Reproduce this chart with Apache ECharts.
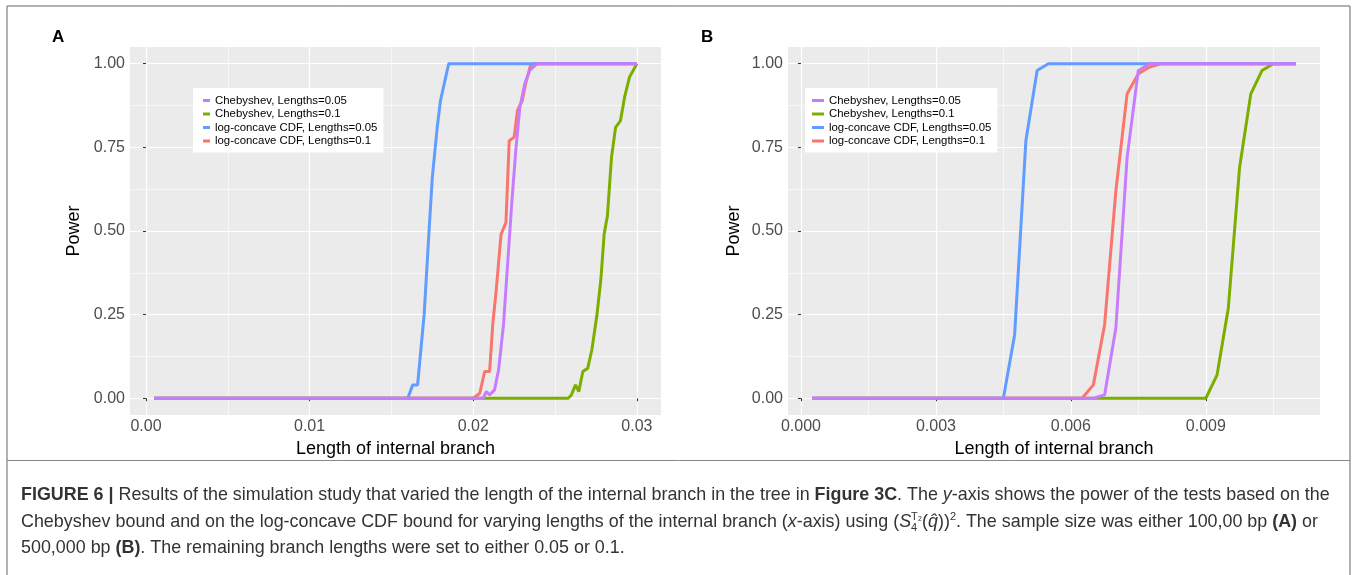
<!DOCTYPE html>
<html>
<head>
<meta charset="utf-8">
<title>Figure 6</title>
<script src="https://cdn.jsdelivr.net/npm/echarts@6/dist/echarts.min.js"></script>
<style>
  html, body { margin: 0; padding: 0; background: #fff; }
  #chart { width: 1357px; height: 575px; }
</style>
</head>
<body>
<div id="chart"></div>
<script>
// legend labels (legend order)
const names = ['Chebyshev, Lengths=0.05', 'Chebyshev, Lengths=0.1', 'log-concave CDF, Lengths=0.05', 'log-concave CDF, Lengths=0.1']
const colors = ['#C77CFF', '#7CAE00', '#619CFF', '#F8766D']

// panel A (100,000 bp)
const aChebShortX = [0.0005, 0.0206, 0.0208, 0.0210, 0.0213, 0.02155, 0.02185, 0.0221, 0.02235, 0.0226, 0.02285, 0.02315, 0.02345, 0.0239, 0.03]
const aChebShortY = [0, 0, 0.02, 0.01, 0.025, 0.085, 0.22, 0.40, 0.58, 0.74, 0.87, 0.94, 0.98, 1, 1]
const aChebLongX = [0.0005, 0.0258, 0.0260, 0.02625, 0.02645, 0.0267, 0.0270, 0.02725, 0.02755, 0.0278, 0.0280, 0.0282, 0.02845, 0.0287, 0.0290, 0.02925, 0.02955, 0.03]
const aChebLongY = [0, 0, 0.01, 0.04, 0.02, 0.08, 0.09, 0.145, 0.245, 0.355, 0.49, 0.545, 0.72, 0.81, 0.83, 0.90, 0.96, 1]
const aLogShortX = [0.0005, 0.0160, 0.0163, 0.0166, 0.0170, 0.0173, 0.0175, 0.0178, 0.0180, 0.0185, 0.03]
const aLogShortY = [0, 0, 0.04, 0.04, 0.25, 0.50, 0.66, 0.81, 0.89, 1, 1]
const aLogLongX = [0.0005, 0.0200, 0.0204, 0.0207, 0.0210, 0.0212, 0.0214, 0.0217, 0.0220, 0.0222, 0.0225, 0.0227, 0.0230, 0.0232, 0.0235, 0.0237, 0.03]
const aLogLongY = [0, 0, 0.015, 0.08, 0.08, 0.225, 0.32, 0.49, 0.525, 0.77, 0.78, 0.86, 0.89, 0.94, 0.995, 1, 1]

// panel B (500,000 bp)
const bChebShortX = [0.00025, 0.0065, 0.00675, 0.007, 0.00725, 0.0075, 0.00775, 0.011]
const bChebShortY = [0, 0, 0.01, 0.21, 0.72, 0.98, 1, 1]
const bChebLongX = [0.00025, 0.009, 0.00925, 0.0095, 0.00975, 0.010, 0.01025, 0.0105, 0.011]
const bChebLongY = [0, 0, 0.07, 0.27, 0.69, 0.91, 0.98, 1, 1]
const bLogShortX = [0.00025, 0.0045, 0.00475, 0.005, 0.00525, 0.0055, 0.011]
const bLogShortY = [0, 0, 0.19, 0.77, 0.98, 1, 1]
const bLogLongX = [0.00025, 0.00625, 0.0065, 0.00675, 0.007, 0.00725, 0.0075, 0.00775, 0.008, 0.011]
const bLogLongY = [0, 0, 0.04, 0.22, 0.62, 0.91, 0.97, 0.99, 1, 1]

// tick marks
const aXTicks = [0, 0.01, 0.02, 0.03]
const aXMinor = [0.005, 0.015, 0.025]
const bXTicks = [0, 0.003, 0.006, 0.009]
const bXMinor = [0.0015, 0.0045, 0.0075, 0.0105]
const yTicks = [0, 0.25, 0.5, 0.75, 1]
const yMinor = [0.125, 0.375, 0.625, 0.875]

const FONT = 'Liberation Sans, Arial, sans-serif'

function zip (xs, ys) {
  return xs.map((x, i) => [x, ys[i]])
}

// ggplot style 5% expansion
function expand (arrs) {
  let lo = Infinity
  let hi = -Infinity
  arrs.forEach(a => a.forEach(v => { lo = Math.min(lo, v); hi = Math.max(hi, v) }))
  const pad = (hi - lo) * 0.05
  return [lo - pad, hi + pad]
}

const aRange = expand([aChebShortX, aChebLongX, aLogShortX, aLogLongX])
const bRange = expand([bChebShortX, bChebLongX, bLogShortX, bLogLongX])
const yRange = expand([[0, 1]])

function majorX (grid, range, ticks, digits) {
  return {
    type: 'value',
    gridIndex: grid,
    min: range[0],
    max: range[1],
    name: 'Length of internal branch',
    nameLocation: 'middle',
    nameGap: 23,
    nameTextStyle: { fontSize: 18, color: '#000', fontFamily: FONT },
    axisLine: { show: false },
    axisTick: { show: true, length: 3, customValues: ticks, lineStyle: { color: '#333', width: 1 } },
    axisLabel: { customValues: ticks, margin: 4, fontSize: 16, color: '#4D4D4D', fontFamily: FONT, formatter: v => v.toFixed(digits) },
    splitLine: { show: true, lineStyle: { color: '#fff', width: 1.2 } }
  }
}

function minorAxis (grid, range, ticks) {
  return {
    type: 'value',
    gridIndex: grid,
    min: range[0],
    max: range[1],
    axisLine: { show: false },
    axisTick: { show: false, customValues: ticks },
    axisLabel: { show: false },
    splitLine: { show: true, lineStyle: { color: '#fff', width: 0.6 } }
  }
}

function majorY (grid, gap) {
  return {
    type: 'value',
    gridIndex: grid,
    min: yRange[0],
    max: yRange[1],
    name: 'Power',
    nameLocation: 'middle',
    nameGap: gap,
    nameTextStyle: { fontSize: 18, color: '#000', fontFamily: FONT },
    axisLine: { show: false },
    axisTick: { show: true, length: 3, customValues: yTicks, lineStyle: { color: '#333', width: 1 } },
    axisLabel: { customValues: yTicks, margin: 5, fontSize: 16, color: '#4D4D4D', fontFamily: FONT, formatter: v => v.toFixed(2) },
    splitLine: { show: true, lineStyle: { color: '#fff', width: 1.2 } }
  }
}

function line (name, color, data, axis) {
  return {
    name: name,
    type: 'line',
    xAxisIndex: axis,
    yAxisIndex: axis,
    data: data,
    showSymbol: false,
    symbol: 'none',
    color: color,
    lineStyle: { width: 3, color: color },
    z: 3
  }
}

function legendAt (left, width, padLeft) {
  return {
    orient: 'vertical',
    left: left,
    top: 88,
    backgroundColor: '#fff',
    padding: [7, 6, 6, padLeft],
    itemWidth: width,
    itemHeight: 3,
    itemGap: 2.5,
    icon: 'rect',
    selectedMode: false,
    textStyle: { fontSize: 11.4, color: '#000', fontFamily: FONT },
    data: names
  }
}

// drawn order: green, red, blue, purple (purple on top)
const series = [
  line(names[1], colors[1], zip(aChebLongX, aChebLongY), 0),
  line(names[3], colors[3], zip(aLogLongX, aLogLongY), 0),
  line(names[2], colors[2], zip(aLogShortX, aLogShortY), 0),
  line(names[0], colors[0], zip(aChebShortX, aChebShortY), 0),
  line(names[1], colors[1], zip(bChebLongX, bChebLongY), 2),
  line(names[3], colors[3], zip(bLogLongX, bLogLongY), 2),
  line(names[2], colors[2], zip(bLogShortX, bLogShortY), 2),
  line(names[0], colors[0], zip(bChebShortX, bChebShortY), 2)
]

const CAP = 17.9
const capRich = {
  b: { fontWeight: 'bold', fontSize: CAP, color: '#222', fontFamily: FONT },
  i: { fontStyle: 'italic', fontSize: CAP, color: '#333', fontFamily: FONT },
  sub: { fontSize: 11, color: '#333', verticalAlign: 'bottom', width: 0, fontFamily: FONT },
  sup: { fontSize: 11, color: '#333', verticalAlign: 'top', fontFamily: FONT }
}

function caption (y, text) {
  return {
    type: 'text',
    left: 21,
    top: y,
    style: {
      text: text,
      fontSize: CAP,
      lineHeight: 22,
      fill: '#333',
      fontFamily: FONT,
      rich: capRich
    }
  }
}

const chart = echarts.init(document.getElementById('chart'))
chart.setOption({
  animation: false,
  textStyle: { fontFamily: FONT },
  grid: [
    { left: 130, top: 47, width: 531, height: 368, show: true, backgroundColor: '#EBEBEB', borderWidth: 0 },
    { left: 788, top: 47, width: 532, height: 368, show: true, backgroundColor: '#EBEBEB', borderWidth: 0 }
  ],
  xAxis: [
    majorX(0, aRange, aXTicks, 2),
    minorAxis(0, aRange, aXMinor),
    majorX(1, bRange, bXTicks, 3),
    minorAxis(1, bRange, bXMinor)
  ],
  yAxis: [
    majorY(0, 47),
    minorAxis(0, yRange, yMinor),
    majorY(1, 45),
    minorAxis(1, yRange, yMinor)
  ],
  legend: [legendAt(193, 7, 10), legendAt(805, 12, 7)],
  series: series,
  graphic: [
    { type: 'rect', shape: { x: 7, y: 6, width: 1343, height: 600 }, style: { fill: 'none', stroke: '#666', lineWidth: 1 }, silent: true },
    { type: 'line', shape: { x1: 7, y1: 460.5, x2: 1350, y2: 460.5 }, style: { stroke: '#888', lineWidth: 1 }, silent: true },
    { type: 'text', left: 52, top: 29, style: { text: 'A', fontSize: 17, fontWeight: 'bold', fill: '#000', fontFamily: FONT } },
    { type: 'text', left: 701, top: 29, style: { text: 'B', fontSize: 17, fontWeight: 'bold', fill: '#000', fontFamily: FONT } },
    caption(484, '{b|FIGURE 6 |} Results of the simulation study that varied the length of the internal branch in the tree in {b|Figure 3C}. The {i|y}-axis shows the power of the tests based on the'),
    caption(511, 'Chebyshev bound and on the log-concave CDF bound for varying lengths of the internal branch ({i|x}-axis) using ({i|S}{sub|4}{sup|T₂}({i|q̂}))' + '{sup|2}. The sample size was either 100,00 bp {b|(A)} or'),
    caption(537, '500,000 bp {b|(B)}. The remaining branch lengths were set to either 0.05 or 0.1.')
  ]
})
</script>
</body>
</html>
